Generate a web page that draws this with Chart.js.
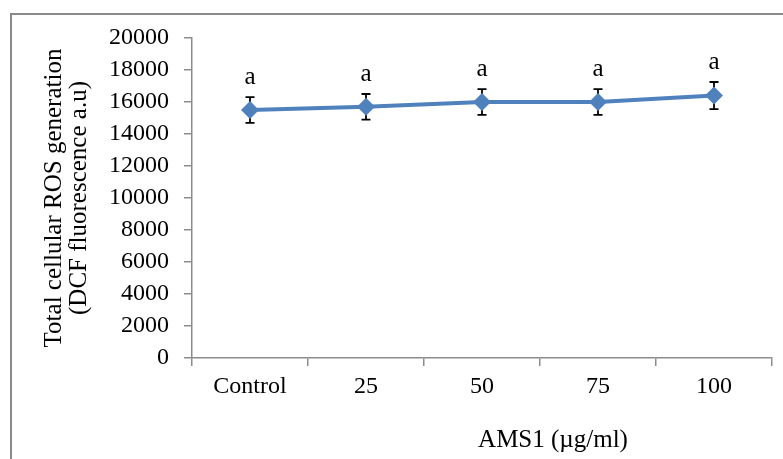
<!DOCTYPE html>
<html>
<head>
<meta charset="utf-8">
<script src="https://cdn.jsdelivr.net/npm/chart.js@4/dist/chart.umd.min.js"></script>
<style>
  html, body { margin: 0; padding: 0; background: #ffffff; }
  #wrap { width: 783px; height: 459px; position: relative; }
</style>
</head>
<body>
<div id="wrap"><canvas id="c" width="783" height="459"></canvas></div>
<script>
// AMS1 concentrations and measured total cellular ROS (DCF fluorescence, a.u.)
const categories = ['Control', '25', '50', '75', '100'];
const rosMeans = [15500, 15700, 16000, 16000, 16400];
const rosErrors = [800, 800, 800, 800, 850];
const groupLetters = ['a', 'a', 'a', 'a', 'a'];
const yTicks = [0, 2000, 4000, 6000, 8000, 10000, 12000, 14000, 16000, 18000, 20000];

const SERIF = "'Liberation Serif', 'Times New Roman', serif";
const AXIS_GRAY = '#8c8c8c';
const LINE_BLUE = '#4f81bd';

// Outer chart frame (open on the right and bottom edges)
const framePlugin = {
  id: 'frame',
  beforeDraw(chart) {
    const ctx = chart.ctx;
    ctx.save();
    ctx.fillStyle = '#ffffff';
    ctx.fillRect(0, 0, chart.width, chart.height);
    ctx.strokeStyle = '#8a8a8a';
    ctx.lineWidth = 2;
    ctx.beginPath();
    ctx.moveTo(11, chart.height + 5);
    ctx.lineTo(11, 14);
    ctx.lineTo(chart.width + 5, 14);
    ctx.stroke();
    ctx.restore();
  }
};

// Error bars (drawn under the markers) and significance letters above them
const errorBarPlugin = {
  id: 'errorBars',
  beforeDatasetsDraw(chart) {
    const ctx = chart.ctx;
    const xs = chart.scales.x, ys = chart.scales.y;
    ctx.save();
    ctx.strokeStyle = '#000000';
    ctx.lineWidth = 1.8;
    rosMeans.forEach((v, i) => {
      const x = xs.getPixelForValue(i);
      const yTop = ys.getPixelForValue(v + rosErrors[i]);
      const yBot = ys.getPixelForValue(v - rosErrors[i]);
      const cap = 4.5;
      ctx.beginPath();
      ctx.moveTo(x, yTop); ctx.lineTo(x, yBot);
      ctx.moveTo(x - cap, yTop); ctx.lineTo(x + cap, yTop);
      ctx.moveTo(x - cap, yBot); ctx.lineTo(x + cap, yBot);
      ctx.stroke();
    });
    ctx.restore();
  },
  afterDatasetsDraw(chart) {
    const ctx = chart.ctx;
    const xs = chart.scales.x, ys = chart.scales.y;
    ctx.save();
    ctx.fillStyle = '#000000';
    ctx.font = '25px ' + SERIF;
    ctx.textAlign = 'center';
    ctx.textBaseline = 'alphabetic';
    rosMeans.forEach((v, i) => {
      const x = xs.getPixelForValue(i);
      const yTop = ys.getPixelForValue(v + rosErrors[i]);
      ctx.fillText(groupLetters[i], x, yTop - 13);
    });
    ctx.restore();
  },
  afterDraw(chart) {
    const ctx = chart.ctx;
    ctx.save();
    ctx.fillStyle = '#000000';
    ctx.font = '25px ' + SERIF;
    ctx.textAlign = 'center';
    ctx.textBaseline = 'middle';
    ctx.fillText('AMS1 (µg/ml)', 553, 440);
    ctx.restore();
  }
};

new Chart(document.getElementById('c'), {
  type: 'line',
  data: {
    labels: categories,
    datasets: [{
      data: rosMeans,
      borderColor: LINE_BLUE,
      backgroundColor: LINE_BLUE,
      borderWidth: 4,
      pointStyle: 'rectRot',
      pointRadius: 9,
      pointHoverRadius: 9,
      pointBorderWidth: 0,
      pointBackgroundColor: LINE_BLUE,
      tension: 0,
      fill: false
    }]
  },
  options: {
    responsive: false,
    animation: false,
    events: [],
    layout: { padding: { left: 0, top: 38, right: 11, bottom: 0 } },
    plugins: {
      legend: { display: false },
      tooltip: { enabled: false }
    },
    scales: {
      x: {
        type: 'category',
        offset: true,
        grid: {
          offset: true,
          drawOnChartArea: false,
          drawTicks: true,
          tickLength: 8,
          color: AXIS_GRAY,
          lineWidth: 1.5
        },
        border: { display: true, color: AXIS_GRAY, width: 1.5 },
        ticks: {
          color: '#000000',
          font: { family: SERIF, size: 24 },
          padding: 6,
          maxRotation: 0
        },
        afterFit(scale) { scale.height = 101; }
      },
      y: {
        min: 0,
        max: 20000,
        afterBuildTicks(scale) { scale.ticks = yTicks.map(v => ({ value: v })); },
        grid: {
          drawOnChartArea: false,
          drawTicks: true,
          tickLength: 8,
          color: AXIS_GRAY,
          lineWidth: 1.5
        },
        border: { display: true, color: AXIS_GRAY, width: 1.5 },
        ticks: {
          color: '#000000',
          font: { family: SERIF, size: 24 },
          padding: 15,
          callback: (v) => String(v)
        },
        title: {
          display: true,
          text: ['Total cellular ROS generation', '(DCF fluorescence a.u)'],
          color: '#000000',
          font: { family: SERIF, size: 25, lineHeight: 1.0 },
          padding: { top: 42, bottom: 0 }
        },
        afterFit(scale) { scale.width = 192; }
      }
    }
  },
  plugins: [framePlugin, errorBarPlugin]
});
</script>
</body>
</html>
